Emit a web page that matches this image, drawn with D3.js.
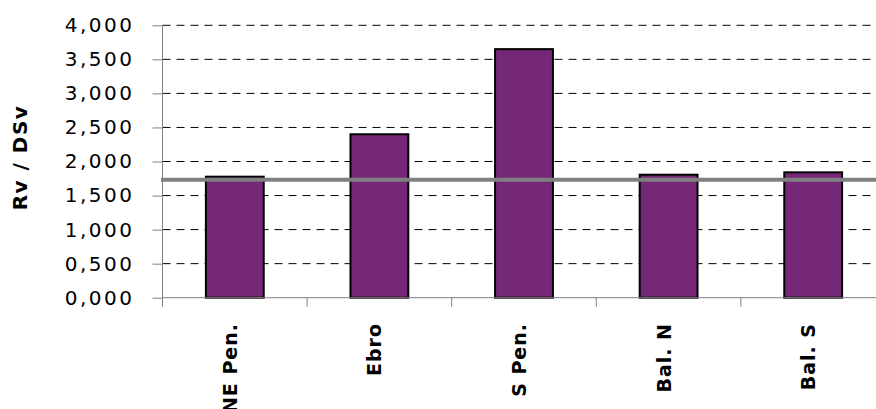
<!DOCTYPE html>
<html>
<head>
<meta charset="utf-8">
<script src="https://cdn.jsdelivr.net/npm/d3@7"></script>
<style>
  html, body { margin: 0; padding: 0; background: #fff; }
  svg { display: block; }
</style>
</head>
<body>
<div id="chart"></div>
<script>
// values
const regions = ["NE Pen.", "Ebro", "S Pen.", "Bal. N", "Bal. S"];
const ratios = [1.777, 2.40, 3.65, 1.806, 1.841];
const refLine = 1.733;
const yTicks = [0, 0.5, 1, 1.5, 2, 2.5, 3, 3.5, 4];

const width = 876, height = 409;
const left = 162.5, y0 = 297.7, y1 = 25.3, step = 144.6;

const svg = d3.select("#chart").append("svg")
  .attr("width", width).attr("height", height);

const x = d3.scaleBand().domain(regions)
  .range([left, left + step * regions.length])
  .paddingInner(0.6).paddingOuter(0.3);
const y = d3.scaleLinear().domain([0, 4]).range([y0, y1]);

const fmt = v => d3.format(",.3f")(v).replace(".", ",");

// dashed gridlines
svg.append("g").selectAll("line").data(yTicks.slice(1)).join("line")
  .attr("x1", left).attr("x2", width)
  .attr("y1", d => y(d)).attr("y2", d => y(d))
  .attr("stroke", "#000").attr("stroke-width", 1)
  .attr("stroke-dasharray", "8,6");

// bars
svg.append("g").selectAll("rect").data(regions).join("rect")
  .attr("x", d => x(d))
  .attr("width", x.bandwidth())
  .attr("y", (d, i) => y(ratios[i]))
  .attr("height", (d, i) => y(0) - y(ratios[i]))
  .attr("fill", "#762878")
  .attr("stroke", "#000").attr("stroke-width", 2);

// y axis
const yAxis = svg.append("g").attr("transform", `translate(${left},0)`)
  .call(d3.axisLeft(y).tickValues(yTicks).tickFormat(fmt).tickSize(10).tickPadding(18));
yAxis.select(".domain").attr("d", `M0,${y1}V${y0 + 9}`).attr("stroke", "#808080");
yAxis.selectAll(".tick line").attr("stroke", "#808080");
yAxis.selectAll("text")
  .attr("font-family", "DejaVu Sans").attr("font-size", 20)
  .attr("letter-spacing", 2.5).attr("fill", "#000");

// x axis
const bounds = regions.map(d => x(d) - (x.step() - x.bandwidth()) / 2).slice(1);
const xAxis = svg.append("g");
xAxis.append("line").attr("x1", left).attr("x2", width)
  .attr("y1", y0).attr("y2", y0).attr("stroke", "#808080");
xAxis.selectAll("line.tk").data(bounds).join("line").attr("class", "tk")
  .attr("x1", d => d).attr("x2", d => d)
  .attr("y1", y0).attr("y2", y0 + 9).attr("stroke", "#808080");
xAxis.selectAll("text").data(regions).join("text")
  .attr("transform", d => `translate(${x(d) + x.bandwidth() / 2 + 2},323) rotate(-90)`)
  .attr("text-anchor", "end")
  .attr("font-family", "DejaVu Sans").attr("font-weight", "bold")
  .attr("font-size", 19).attr("letter-spacing", 1)
  .text(d => d);

// reference line
svg.append("line")
  .attr("x1", left - 1.5).attr("x2", width)
  .attr("y1", y(refLine)).attr("y2", y(refLine))
  .attr("stroke", "#808080").attr("stroke-width", 4);

// y title
svg.append("text")
  .attr("transform", "translate(27,157.5) rotate(-90)")
  .attr("text-anchor", "middle")
  .attr("font-family", "DejaVu Sans").attr("font-weight", "bold")
  .attr("font-size", 20).attr("letter-spacing", 1.5)
  .text("Rv / DSv");
</script>
</body>
</html>
